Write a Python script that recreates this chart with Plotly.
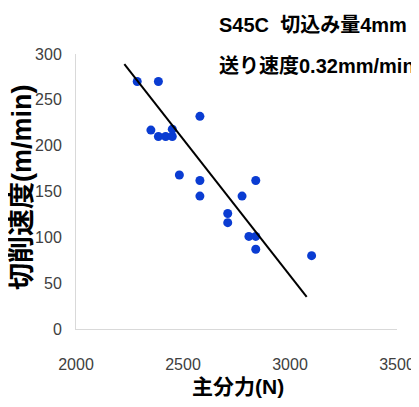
import plotly.graph_objects as go

force_n = [2286, 2385, 2579, 2350, 2385, 2419, 2450, 2450, 2483, 2579, 2579,
           2840, 2776, 2709, 2709, 2808, 2840, 2840, 3101]
speed = [270, 270, 232, 217, 210, 210, 210, 218, 168, 162, 145,
         162, 145, 126, 116, 101, 101, 87, 80]
trend_x = [2226, 3078]
trend_y = [289, 35]
x_ticks = [2000, 2500, 3000, 3500]
y_ticks = [0, 50, 100, 150, 200, 250, 300]

# page has an 8px body margin: figure placed at (8, 8) in the 419x407 window
OFF = 8
W, H = 419 - OFF, 407 - 2 * OFF
L, R, T = 76 - OFF, 22, 54 - OFF
B = (H + OFF) - 329
PW, PH = W - L - R, H - T - B
FONT = "Liberation Sans, Arial, Noto Sans CJK JP, sans-serif"


def px(xp):
    return (xp - OFF - L) / PW


def py(yp):
    return 1 - (yp - OFF - T) / PH


fig = go.Figure()
fig.add_trace(go.Scatter(x=force_n, y=speed, mode="markers",
                         marker=dict(color="#0a3cd2", size=9), showlegend=False))
fig.add_trace(go.Scatter(x=trend_x, y=trend_y, mode="lines",
                         line=dict(color="black", width=2), showlegend=False))

fig.update_layout(
    width=W, height=H,
    margin=dict(l=L, r=R, t=T, b=B, autoexpand=False),
    paper_bgcolor="white", plot_bgcolor="white",
    font=dict(family=FONT, color="#404040", size=16),
    xaxis=dict(range=[2000, 3500], tickvals=x_ticks, showgrid=False, zeroline=False,
               showline=True, linecolor="#d9d9d9", linewidth=1, ticks="",
               ticklabelstandoff=21, automargin=False),
    yaxis=dict(range=[0, 300], tickvals=y_ticks, showgrid=False, zeroline=False,
               showline=True, linecolor="#d9d9d9", linewidth=1, ticks="",
               ticklabelstandoff=10, automargin=False),
    annotations=[
        dict(text="<b>S45C  切込み量4mm</b>", xref="paper", yref="paper",
             x=px(217), y=py(25), xanchor="left", yanchor="middle", showarrow=False,
             font=dict(size=20, color="black")),
        dict(text="<b>送り速度0.32mm/min</b>", xref="paper", yref="paper",
             x=px(217), y=py(66), xanchor="left", yanchor="middle", showarrow=False,
             font=dict(size=20, color="black")),
        dict(text="<b>主分力(N)</b>", xref="paper", yref="paper",
             x=px(238), y=py(386), xanchor="center", yanchor="middle", showarrow=False,
             font=dict(size=21, color="black")),
        dict(text="<b>切削速度(m/min)</b>", xref="paper", yref="paper",
             x=px(22), y=py(187), xanchor="center", yanchor="middle", showarrow=False,
             textangle=-90, font=dict(size=27, color="black")),
    ],
)

fig.write_html("out.html")
